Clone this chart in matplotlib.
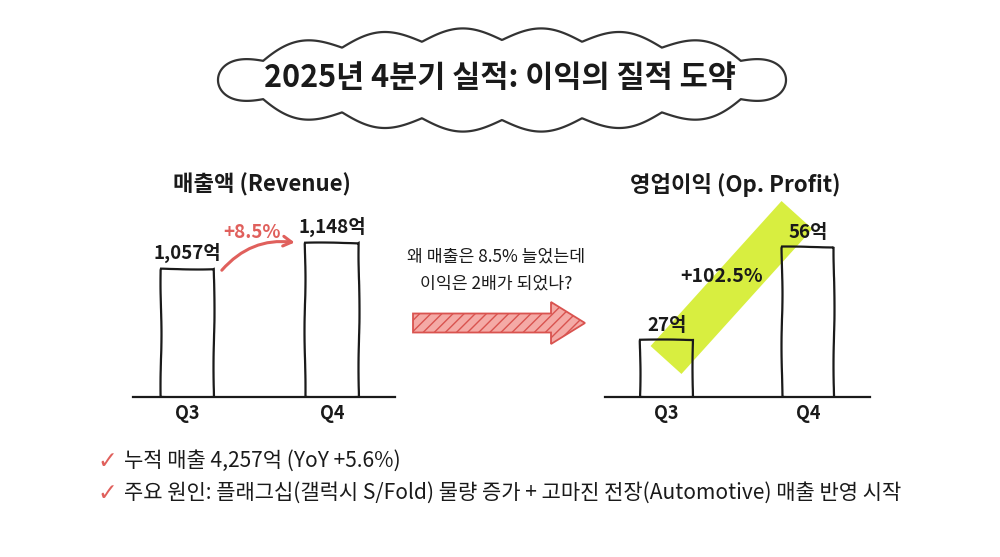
import numpy as np
import matplotlib
matplotlib.use("Agg")
from matplotlib import pyplot as plt
from matplotlib.patches import Polygon, FancyArrow

plt.rcParams['font.family'] = ['Noto Sans CJK KR', 'DejaVu Sans']

quarters = ["Q3", "Q4"]
revenue = [1057, 1148]
revenue_labels = ["1,057억", "1,148억"]
op_profit = [27, 56]
profit_labels = ["27억", "56억"]
revenue_growth = "+8.5%"
profit_growth = "+102.5%"
title = "2025년 4분기 실적: 이익의 질적 도약"
question = "왜 매출은 8.5% 늘었는데\n이익은 2배가 되었나?"
bullets = ["누적 매출 4,257억 (YoY +5.6%)",
           "주요 원인: 플래그십(갤럭시 S/Fold) 물량 증가 + 고마진 전장(Automotive) 매출 반영 시작"]

INK = "#1a1a1a"
RED = "#e0605c"

fig = plt.figure(figsize=(10, 5.57), dpi=100)
fig.patch.set_facecolor("white")

# overlay in pixel coordinates for the decorations
ov = fig.add_axes([0, 0, 1, 1], zorder=0)
ov.set_xlim(0, 1000)
ov.set_ylim(557, 0)
ov.axis("off")

# cloud around the title: bumps spaced evenly along the ellipse outline
cx, cy, a, b = 502, 80, 272, 40
t = np.linspace(0, 2 * np.pi, 2000)
ex, ey = cx + a * np.cos(t), cy + b * np.sin(t)
seg = np.hypot(np.diff(ex), np.diff(ey))
s = np.concatenate([[0], np.cumsum(seg)]) / seg.sum()
nx, ny = np.cos(t) / a, np.sin(t) / b
nn = np.hypot(nx, ny)
bump = 12 * np.abs(np.cos(np.pi * 14 * s))
xs = ex + bump * nx / nn
ys = ey + bump * ny / nn
ov.add_patch(Polygon(np.column_stack([xs, ys]), closed=True, facecolor="white",
                     edgecolor="#333333", lw=1.6))
ov.text(cx - 2, cy - 2, title, ha="center", va="center", fontsize=22,
        fontweight="bold", color=INK)

# middle question and arrow
ov.text(496, 270, question, ha="center", va="center", fontsize=12.4,
        color=INK, linespacing=1.6)
ov.add_patch(FancyArrow(413, 323, 172, 0, width=19, head_width=42,
                        head_length=34, length_includes_head=True,
                        facecolor="#f4aaa6", edgecolor="#d9534f", lw=1.3,
                        hatch="///"))

# highlight stroke behind the profit bars
ov.plot([666, 797], [360, 215], color="#d6ee36", lw=30, solid_capstyle="butt",
        alpha=0.95, zorder=0)
ov.text(722, 277, profit_growth, ha="center", va="center", fontsize=14,
        fontweight="bold", color=INK, zorder=3)

# bullet list
for i, line in enumerate(bullets):
    y = 461 + 32 * i
    ov.text(107, y, "\u2713", ha="center", va="center", fontsize=17,
            color=RED, family="DejaVu Sans")
    ov.text(124, y, line, ha="left", va="center", fontsize=15.1,
            color=INK)


def bar_panel(rect, values, labels, ylim, xlim, heading):
    ax = fig.add_axes(rect, zorder=2)
    ax.set_facecolor("none")
    x = np.arange(len(values))
    bars = ax.bar(x, [v - ylim[0] for v in values], bottom=ylim[0], width=0.37,
                  facecolor="none", edgecolor=INK, lw=1.6)
    for bar in bars:
        bar.set_sketch_params(0.5, 120, 2)
    for xi, v, lab in zip(x, values, labels):
        ax.annotate(lab, (xi, v), xytext=(0, 4), textcoords="offset points",
                    ha="center", va="bottom", fontsize=13.5, fontweight="bold",
                    color=INK)
    ax.set_xlim(*xlim)
    ax.set_ylim(*ylim)
    for sp in ("left", "right", "top"):
        ax.spines[sp].set_visible(False)
    ax.spines["bottom"].set_linewidth(1.6)
    ax.spines["bottom"].set_color(INK)
    ax.set_yticks([])
    ax.set_xticks(x)
    ax.set_xticklabels(quarters, fontsize=13, fontweight="bold", color=INK)
    ax.tick_params(axis="x", length=0, pad=5)
    fig.text(rect[0] + rect[2] / 2 - 0.002, 1 - 185 / 557, heading, ha="center",
             va="center", fontsize=16, fontweight="bold", color=INK)
    return ax


ax1 = bar_panel([0.133, 160 / 557, 0.262, 197 / 557], revenue, revenue_labels,
                (609, 1298), (-0.377, 1.436), "매출액 (Revenue)")
ax2 = bar_panel([0.605, 160 / 557, 0.265, 197 / 557], op_profit, profit_labels,
                (9.2, 70.8), (-0.435, 1.438), "영업이익 (Op. Profit)")

# curved growth arrow between the revenue bars
ax1.annotate("", xy=(1 - 0.24, revenue[1]), xytext=(0.225, revenue[0] - 12),
             arrowprops=dict(arrowstyle="->,head_length=0.6,head_width=0.35",
                             color=RED, lw=2.2, connectionstyle="arc3,rad=-0.28"))
ov.text(252, 232, revenue_growth, ha="center", va="center", fontsize=13.5,
        fontweight="bold", color=RED)

fig.savefig("out.png", dpi=100, facecolor="white")
